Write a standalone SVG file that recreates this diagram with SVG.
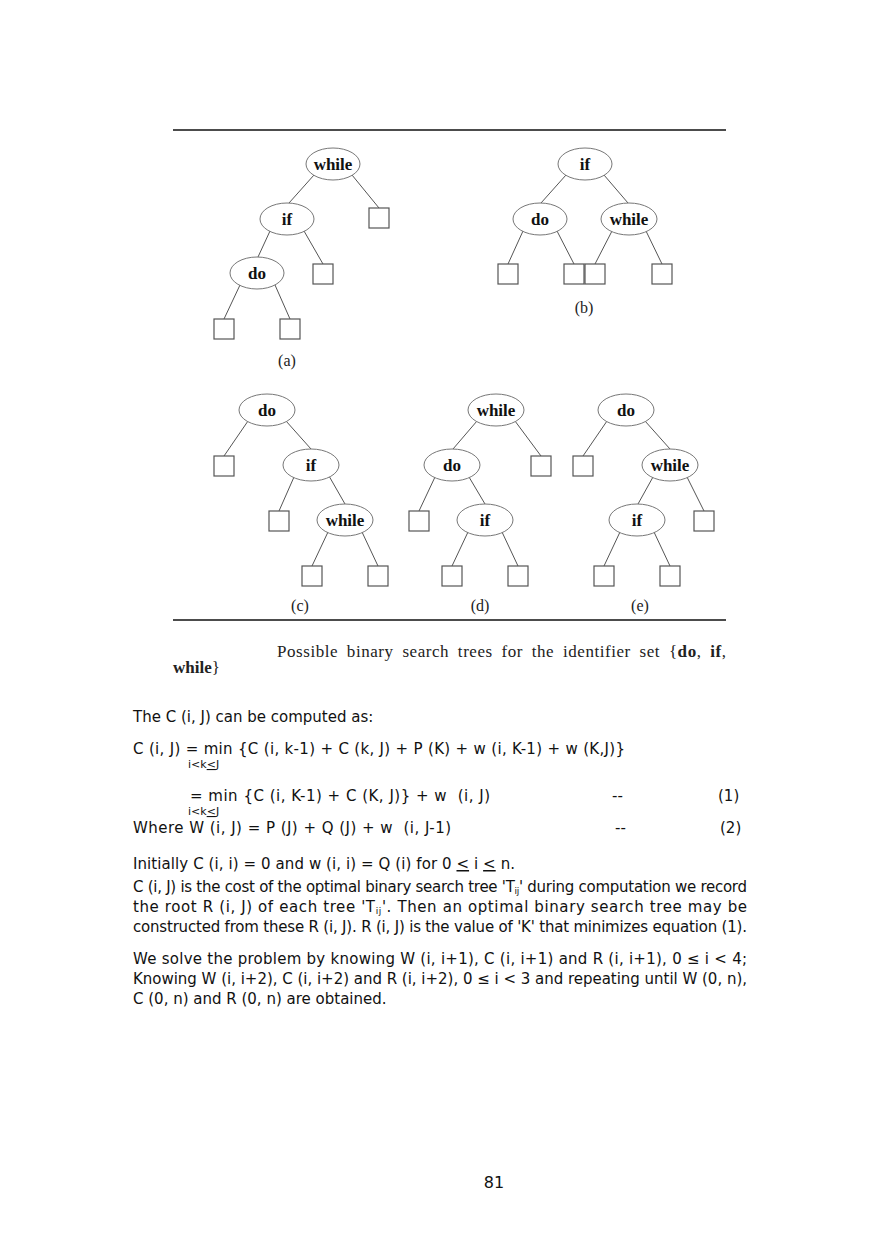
<svg xmlns="http://www.w3.org/2000/svg" width="880" height="1245" viewBox="0 0 880 1245">
<style>
.bg{fill:#fff}
.rule{stroke:#111;stroke-width:1.6}
.node ellipse{fill:#fff;stroke:#777;stroke-width:1}
.node text{font-family:"Liberation Serif","Times New Roman",serif;font-weight:bold;font-size:17px;fill:#111;text-anchor:middle}
.leaf rect{fill:#fff;stroke:#555;stroke-width:1.2}
.edges line{stroke:#555;stroke-width:1}
.lbl{font-family:"Liberation Serif","Times New Roman",serif;font-size:16px;fill:#222;text-anchor:middle}
.cap{font-family:"Liberation Serif","Times New Roman",serif;font-size:17px;fill:#222}
.b{font-weight:bold}
.t{font-family:"DejaVu Sans",Verdana,sans-serif;font-size:15px;fill:#111}
.s{font-family:"DejaVu Sans",Verdana,sans-serif;font-size:11px;fill:#111}
.sub{font-size:9px}
.u{text-decoration:underline}
</style>
<rect class="bg" x="0" y="0" width="880" height="1245"/>
<line class="rule" x1="173" y1="130" x2="726" y2="130"/>
<line class="rule" x1="173" y1="620" x2="726" y2="620"/>

<g id="connectors" class="edges">
<!-- tree a -->
<line x1="314" y1="175" x2="289" y2="203"/>
<line x1="352" y1="175" x2="379" y2="208"/>
<line x1="270" y1="231" x2="258" y2="257"/>
<line x1="304" y1="231" x2="323" y2="264"/>
<line x1="240" y1="285" x2="224" y2="319"/>
<line x1="275" y1="285" x2="290" y2="319"/>
<!-- tree b -->
<line x1="566" y1="175" x2="541" y2="203"/>
<line x1="604" y1="175" x2="628" y2="203"/>
<line x1="523" y1="231" x2="508" y2="264"/>
<line x1="557" y1="231" x2="574" y2="264"/>
<line x1="612" y1="231" x2="595" y2="264"/>
<line x1="646" y1="231" x2="662" y2="264"/>
<!-- tree c -->
<line x1="248" y1="421" x2="224" y2="456"/>
<line x1="286" y1="421" x2="311" y2="449"/>
<line x1="294" y1="477" x2="279" y2="511"/>
<line x1="329" y1="476" x2="345" y2="504"/>
<line x1="328" y1="532" x2="312" y2="566"/>
<line x1="362" y1="532" x2="378" y2="566"/>
<!-- tree d -->
<line x1="477" y1="421" x2="453" y2="449"/>
<line x1="515" y1="421" x2="541" y2="456"/>
<line x1="435" y1="477" x2="419" y2="511"/>
<line x1="469" y1="477" x2="485" y2="504"/>
<line x1="468" y1="532" x2="452" y2="566"/>
<line x1="502" y1="532" x2="518" y2="566"/>
<!-- tree e -->
<line x1="607" y1="421" x2="583" y2="456"/>
<line x1="645" y1="421" x2="670" y2="449"/>
<line x1="653" y1="477" x2="638" y2="504"/>
<line x1="687" y1="477" x2="704" y2="511"/>
<line x1="620" y1="532" x2="604" y2="566"/>
<line x1="654" y1="532" x2="670" y2="566"/>
</g>

<!-- tree a -->
<g id="a-while" class="node"><ellipse cx="333" cy="164" rx="27" ry="16"/><text x="333" y="170">while</text></g>
<g id="a-if" class="node"><ellipse cx="287" cy="219" rx="27" ry="16"/><text x="287" y="225">if</text></g>
<g id="a-do" class="node"><ellipse cx="257" cy="273" rx="27" ry="16"/><text x="257" y="279">do</text></g>
<g id="a-l1" class="leaf"><rect x="369" y="208" width="20" height="20"/></g>
<g id="a-l2" class="leaf"><rect x="313" y="264" width="20" height="20"/></g>
<g id="a-l3" class="leaf"><rect x="214" y="319" width="20" height="20"/></g>
<g id="a-l4" class="leaf"><rect x="280" y="319" width="20" height="20"/></g>
<text class="lbl" x="287" y="366">(a)</text>

<!-- tree b -->
<g id="b-if" class="node"><ellipse cx="585" cy="164" rx="27" ry="16"/><text x="585" y="170">if</text></g>
<g id="b-do" class="node"><ellipse cx="540" cy="219" rx="27" ry="16"/><text x="540" y="225">do</text></g>
<g id="b-while" class="node"><ellipse cx="629" cy="219" rx="28" ry="16"/><text x="629" y="225">while</text></g>
<g id="b-l1" class="leaf"><rect x="498" y="264" width="20" height="20"/></g>
<g id="b-l2" class="leaf"><rect x="564" y="264" width="20" height="20"/></g>
<g id="b-l3" class="leaf"><rect x="585" y="264" width="20" height="20"/></g>
<g id="b-l4" class="leaf"><rect x="652" y="264" width="20" height="20"/></g>
<text class="lbl" x="584" y="313">(b)</text>

<!-- tree c -->
<g id="c-do" class="node"><ellipse cx="267" cy="410" rx="28" ry="16"/><text x="267" y="416">do</text></g>
<g id="c-if" class="node"><ellipse cx="311" cy="465" rx="28" ry="16"/><text x="311" y="471">if</text></g>
<g id="c-while" class="node"><ellipse cx="345" cy="520" rx="28" ry="16"/><text x="345" y="526">while</text></g>
<g id="c-l1" class="leaf"><rect x="214" y="456" width="20" height="20"/></g>
<g id="c-l2" class="leaf"><rect x="269" y="511" width="20" height="20"/></g>
<g id="c-l3" class="leaf"><rect x="302" y="566" width="20" height="20"/></g>
<g id="c-l4" class="leaf"><rect x="368" y="566" width="20" height="20"/></g>
<text class="lbl" x="300" y="611">(c)</text>

<!-- tree d -->
<g id="d-while" class="node"><ellipse cx="496" cy="410" rx="28" ry="16"/><text x="496" y="416">while</text></g>
<g id="d-do" class="node"><ellipse cx="452" cy="465" rx="28" ry="16"/><text x="452" y="471">do</text></g>
<g id="d-if" class="node"><ellipse cx="485" cy="520" rx="28" ry="16"/><text x="485" y="526">if</text></g>
<g id="d-l1" class="leaf"><rect x="531" y="456" width="20" height="20"/></g>
<g id="d-l2" class="leaf"><rect x="409" y="511" width="20" height="20"/></g>
<g id="d-l3" class="leaf"><rect x="442" y="566" width="20" height="20"/></g>
<g id="d-l4" class="leaf"><rect x="508" y="566" width="20" height="20"/></g>
<text class="lbl" x="480" y="611">(d)</text>

<!-- tree e -->
<g id="e-do" class="node"><ellipse cx="626" cy="410" rx="28" ry="16"/><text x="626" y="416">do</text></g>
<g id="e-while" class="node"><ellipse cx="670" cy="465" rx="28" ry="16"/><text x="670" y="471">while</text></g>
<g id="e-if" class="node"><ellipse cx="637" cy="520" rx="28" ry="16"/><text x="637" y="526">if</text></g>
<g id="e-l1" class="leaf"><rect x="573" y="456" width="20" height="20"/></g>
<g id="e-l2" class="leaf"><rect x="694" y="511" width="20" height="20"/></g>
<g id="e-l3" class="leaf"><rect x="594" y="566" width="20" height="20"/></g>
<g id="e-l4" class="leaf"><rect x="660" y="566" width="20" height="20"/></g>
<text class="lbl" x="640" y="611">(e)</text>

<!-- caption -->
<text class="cap" x="277" y="657" word-spacing="4" textLength="449">Possible binary search trees for the identifier set {<tspan class="b">do</tspan>, <tspan class="b">if</tspan>,</text>
<text class="cap" x="173" y="673"><tspan class="b">while</tspan>}</text>

<!-- body text -->
<text class="t" x="133" y="722">The C (i, J) can be computed as:</text>
<text class="t" x="133" y="754" textLength="492">C (i, J) = min {C (i, k-1) + C (k, J) + P (K) + w (i, K-1) + w (K,J)}</text>
<text class="s" x="188" y="768">i&lt;k<tspan class="u">&lt;</tspan>J</text>
<text class="t" x="190" y="801" textLength="300" xml:space="preserve">= min {C (i, K-1) + C (K, J)} + w  (i, J)</text>
<text class="t" x="612" y="801">--</text>
<text class="t" x="718" y="801">(1)</text>
<text class="s" x="188" y="815">i&lt;k<tspan class="u">&lt;</tspan>J</text>
<text class="t" x="133" y="833" textLength="318" xml:space="preserve">Where W (i, J) = P (J) + Q (J) + w  (i, J-1)</text>
<text class="t" x="615" y="833">--</text>
<text class="t" x="720" y="833">(2)</text>
<text class="t" x="133" y="869" textLength="382">Initially C (i, i) = 0 and w (i, i) = Q (i) for 0 <tspan class="u">&lt;</tspan> i <tspan class="u">&lt;</tspan> n.</text>
<text class="t" x="133" y="892" textLength="614">C (i, J) is the cost of the optimal binary search tree 'T<tspan class="sub" dy="2">ij</tspan><tspan dy="-2">' during computation we record</tspan></text>
<text class="t" x="133" y="912" textLength="614">the root R (i, J) of each tree 'T<tspan class="sub" dy="2">ij</tspan><tspan dy="-2">'. Then an optimal binary search tree may be</tspan></text>
<text class="t" x="133" y="932" textLength="614">constructed from these R (i, J). R (i, J) is the value of 'K' that minimizes equation (1).</text>
<text class="t" x="133" y="964" textLength="614">We solve the problem by knowing W (i, i+1), C (i, i+1) and R (i, i+1), 0 ≤ i &lt; 4;</text>
<text class="t" x="133" y="984" textLength="614">Knowing W (i, i+2), C (i, i+2) and R (i, i+2), 0 ≤ i &lt; 3 and repeating until W (0, n),</text>
<text class="t" x="133" y="1004">C (0, n) and R (0, n) are obtained.</text>
<text class="t" x="494" y="1188" text-anchor="middle" style="font-size:16px">81</text>
</svg>
